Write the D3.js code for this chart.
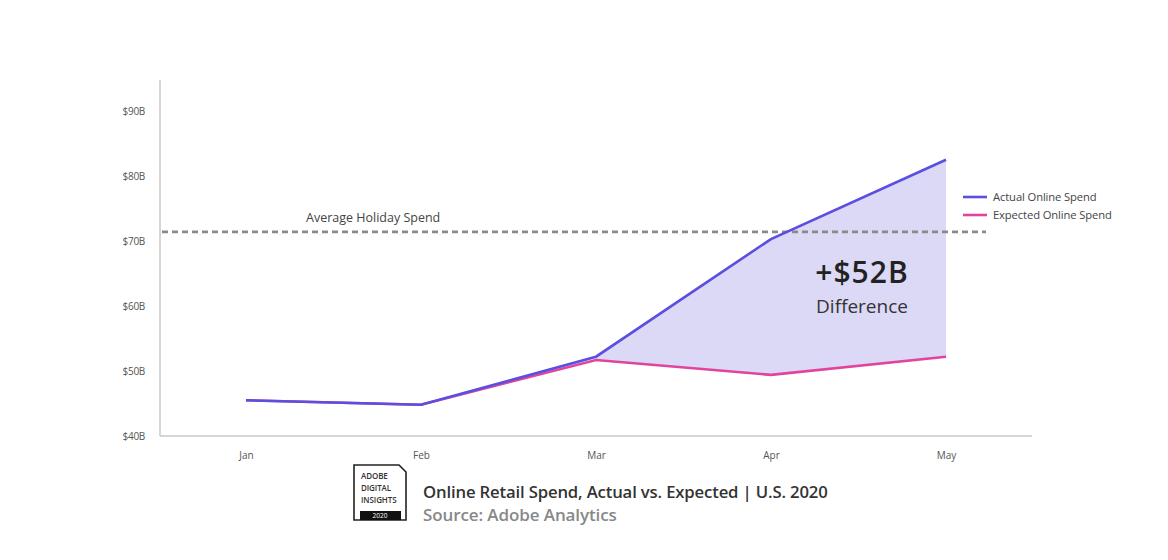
<!DOCTYPE html>
<html><head><meta charset="utf-8">
<script src="https://cdn.jsdelivr.net/npm/d3@7"></script>
<style>html,body{margin:0;padding:0;background:#fff;}svg{display:block;}</style>
</head><body>
<svg id="c" width="1168" height="560"></svg>
<script>
const months = ["Jan","Feb","Mar","Apr","May"];
const actualSpend = [45.5, 44.8, 52.2, 70.3, 82.5];
const expectedSpend = [45.5, 44.8, 51.7, 49.4, 52.2];
const yTicks = [40, 50, 60, 70, 80, 90];
const averageHoliday = 71.4;
const fillStartIndex = 2;
const seriesNames = ["Actual Online Spend", "Expected Online Spend"];

const svg = d3.select("#c");
const font = "'Open Sans', 'Noto Sans', sans-serif";
const x = d3.scalePoint().domain(months).range([246, 946]);
const y = d3.scaleLinear().domain([40, 90]).range([436, 111]);

// axes
svg.append("line").attr("x1",160).attr("x2",160).attr("y1",80).attr("y2",436)
  .attr("stroke","#c9c9c9").attr("stroke-width",1.5);
svg.append("line").attr("x1",160).attr("x2",1032).attr("y1",436).attr("y2",436)
  .attr("stroke","#c9c9c9").attr("stroke-width",1.5);

const yAxis = svg.append("g").attr("transform","translate(160,0)")
  .call(d3.axisLeft(y).tickValues(yTicks).tickSize(0).tickPadding(15).tickFormat(d => "$" + d + "B"));
yAxis.select(".domain").remove();
yAxis.selectAll("text").attr("font-family",font).attr("font-size",10).attr("fill","#555").attr("letter-spacing","-0.3");

const xAxis = svg.append("g").attr("transform","translate(0,436)")
  .call(d3.axisBottom(x).tickSize(0).tickPadding(16));
xAxis.select(".domain").remove();
xAxis.selectAll("text").attr("font-family",font).attr("font-size",10).attr("fill","#555");

// difference area
const idx = d3.range(fillStartIndex, months.length);
svg.append("path").datum(idx)
  .attr("d", d3.area().x(i => x(months[i])).y0(i => y(expectedSpend[i])).y1(i => y(actualSpend[i])))
  .attr("fill","#dcd9f6");

// average holiday line
svg.append("line").attr("x1",162).attr("x2",986).attr("y1",y(averageHoliday)).attr("y2",y(averageHoliday))
  .attr("stroke","#8a8a8a").attr("stroke-width",2.6).attr("stroke-dasharray","6,4");
svg.append("text").attr("x",306).attr("y",y(averageHoliday)-10)
  .attr("font-family",font).attr("font-size",12.5).attr("fill","#444").text("Average Holiday Spend");

// lines
const line = d3.line().x((d,i) => x(months[i])).y(d => y(d));
svg.append("path").datum(expectedSpend).attr("d", line).attr("fill","none")
  .attr("stroke","#e0449c").attr("stroke-width",2.6);
svg.append("path").datum(actualSpend).attr("d", line).attr("fill","none")
  .attr("stroke","#5a4fe0").attr("stroke-width",2.6);

// legend
const legColors = ["#5a4fe0","#e0449c"];
seriesNames.forEach((n,i) => {
  const ly = 197 + i*18;
  svg.append("line").attr("x1",963).attr("x2",987).attr("y1",ly).attr("y2",ly)
    .attr("stroke",legColors[i]).attr("stroke-width",2.6);
  svg.append("text").attr("x",993).attr("y",ly+4).attr("font-family",font)
    .attr("font-size",11.2).attr("fill","#444").attr("letter-spacing","-0.1").text(n);
});

// annotation
svg.append("text").attr("x",862).attr("y",283).attr("text-anchor","middle")
  .attr("font-family",font).attr("font-size",30).attr("font-weight",600).attr("fill","#222")
  .attr("letter-spacing","1").text("+$52B");
svg.append("text").attr("x",862).attr("y",313).attr("text-anchor","middle")
  .attr("font-family",font).attr("font-size",19).attr("fill","#333").text("Difference");

// logo
const lg = svg.append("g");
lg.append("path").attr("d","M354,465 L399,465 L406,472 L406,520 L354,520 Z")
  .attr("fill","#fff").attr("stroke","#222").attr("stroke-width",1.6);
lg.append("rect").attr("x",360).attr("y",511).attr("width",41).attr("height",9).attr("fill","#111");
["ADOBE","DIGITAL","INSIGHTS"].forEach((t,i) => {
  lg.append("text").attr("x",361).attr("y",479 + i*12).attr("font-family",font)
    .attr("font-size",8).attr("font-weight",600).attr("fill","#333").attr("letter-spacing","-0.1").text(t);
});
lg.append("text").attr("x",380).attr("y",518).attr("text-anchor","middle").attr("font-family",font)
  .attr("font-size",6.5).attr("fill","#fff").text("2020");

svg.append("text").attr("x",423).attr("y",498).attr("font-family",font).attr("font-size",16.7)
  .attr("font-weight",600).attr("fill","#333").attr("letter-spacing","-0.15").text("Online Retail Spend, Actual vs. Expected | U.S. 2020");
svg.append("text").attr("x",423).attr("y",521).attr("font-family",font).attr("font-size",17)
  .attr("font-weight",600).attr("fill","#888").attr("letter-spacing","-0.1").text("Source: Adobe Analytics");
</script>
</body></html>
